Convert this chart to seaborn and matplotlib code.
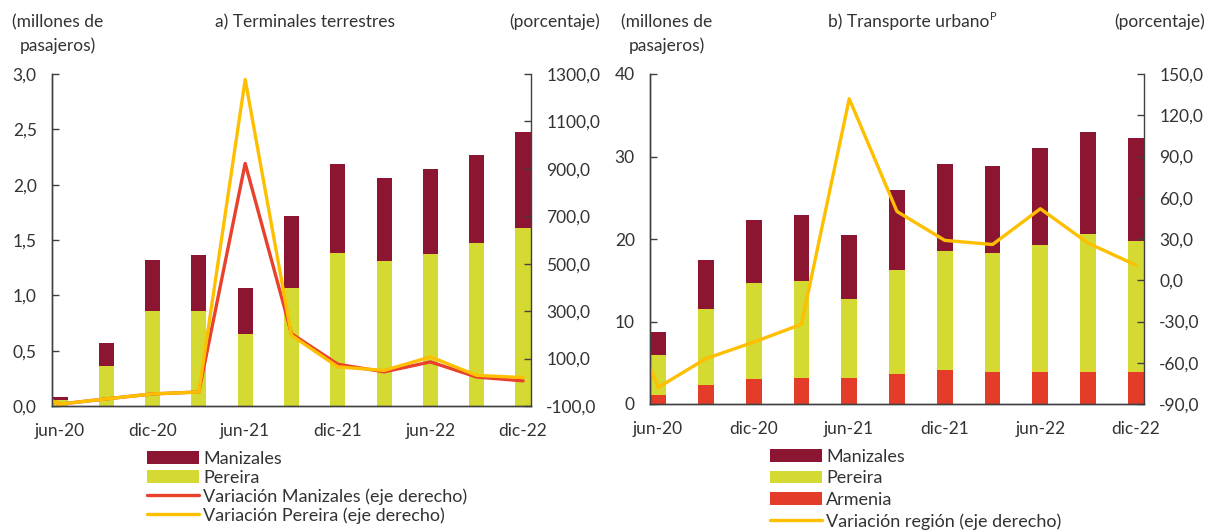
import numpy as np
import pandas as pd
import matplotlib
matplotlib.use("Agg")
import matplotlib.pyplot as plt
import seaborn as sns
from matplotlib.patches import Patch
from matplotlib.lines import Line2D

# ---------------- data ----------------
quarters = ["jun-20", "sep-20", "dic-20", "mar-21", "jun-21", "sep-21",
            "dic-21", "mar-22", "jun-22", "sep-22", "dic-22"]
var_quarters = ["mar-20"] + quarters
tick_labels = ["jun-20", "dic-20", "jun-21", "dic-21", "jun-22", "dic-22"]

# a) Terminales terrestres (millones de pasajeros)
term_pereira = [0.05, 0.36, 0.86, 0.86, 0.65, 1.07, 1.38, 1.31, 1.37, 1.47, 1.61]
term_manizales = [0.03, 0.21, 0.46, 0.50, 0.42, 0.65, 0.81, 0.75, 0.77, 0.80, 0.87]
# variaciones (porcentaje, eje derecho)
var_manizales = [-9, -92, -70, -49, -41, 923, 205, 76, 44, 86, 22, 6]
var_pereira = [-9, -92, -70, -49, -41, 1277, 198, 65, 50, 107, 29, 20]

# b) Transporte urbano (millones de pasajeros)
urb_armenia = [1.1, 2.3, 3.0, 3.15, 3.15, 3.6, 4.1, 3.9, 3.9, 3.9, 3.9]
urb_pereira = [4.9, 9.2, 11.7, 11.8, 9.6, 12.7, 14.4, 14.45, 15.35, 16.75, 15.8]
urb_manizales = [2.7, 5.9, 7.6, 8.0, 7.75, 9.6, 10.6, 10.55, 11.8, 12.3, 12.6]
var_region = [8, -78, -57, -45, -32, 132, 50, 29, 26, 52, 27, 11]

# ---------------- style ----------------
C_MAN = "#8C1631"
C_PER = "#D5DA33"
C_ARM = "#E43C28"
C_RED = "#E8412C"
C_ORA = "#FDBF00"
TXT = "#333333"
SPN = "#404040"

sns.set_theme(style="white")
plt.rcParams["font.family"] = ["Lato", "DejaVu Sans"]
plt.rcParams["font.size"] = 12
plt.rcParams["text.color"] = TXT
plt.rcParams["axes.labelcolor"] = TXT
plt.rcParams["xtick.color"] = TXT
plt.rcParams["ytick.color"] = TXT

fig = plt.figure(figsize=(12.12, 5.31), dpi=100)

def fmt1(v):
    return f"{v:.1f}".replace(".", ",")

def setup_axes(ax, ax2, n):
    off = 0.17
    ax.set_xlim(-off, n - 1 + off)
    ax.set_xticks(range(0, n, 2))
    ax.set_xticklabels(tick_labels)
    ax.set_xticks([i - off for i in range(0, n, 2)], minor=True)
    ax.tick_params(axis="x", which="major", length=0, pad=12, labelsize=12.5)
    ax.tick_params(axis="x", which="minor", direction="in", length=5, width=1, color=SPN)
    ax.tick_params(axis="y", direction="in", length=5, width=1, color=SPN, pad=11, labelsize=12.5)
    ax2.tick_params(axis="y", direction="in", length=5, width=1, color=SPN, pad=11, labelsize=12.5)
    ax.set_xlabel("")
    ax.set_ylabel("")
    ax2.set_xlabel("")
    ax2.set_ylabel("")
    for a in (ax, ax2):
        a.spines["top"].set_visible(False)
        for s in ("left", "right", "bottom"):
            a.spines[s].set_color(SPN)
            a.spines[s].set_linewidth(1.0)
        a.grid(False)
        a.set_facecolor("none")
    ax.spines["right"].set_visible(False)

# ---------------- panel a ----------------
axa = fig.add_axes([52 / 1212, 1 - 406 / 531, 479 / 1212, 332 / 531])
tp = np.array(term_pereira)
tm = np.array(term_manizales)
dfa = pd.DataFrame({"q": quarters, "total": tp + tm, "per": tp})
sns.barplot(data=dfa, x="q", y="total", order=quarters, color=C_MAN,
            width=0.33, saturation=1, ax=axa, edgecolor="none")
sns.barplot(data=dfa, x="q", y="per", order=quarters, color=C_PER,
            width=0.33, saturation=1, ax=axa, edgecolor="none")
axa.set_ylim(0, 3.0)
axa.set_yticks(np.arange(0, 3.01, 0.5))
axa.set_yticklabels([fmt1(v) for v in np.arange(0, 3.01, 0.5)])

axa2 = axa.twinx()
xs = np.arange(-1, len(quarters))
dfl = pd.DataFrame({"x": xs, "man": var_manizales, "per": var_pereira})
sns.lineplot(data=dfl, x="x", y="man", color=C_RED, linewidth=2.4, ax=axa2)
sns.lineplot(data=dfl, x="x", y="per", color=C_ORA, linewidth=2.4, ax=axa2)
axa2.set_ylim(-100, 1300)
rt = np.arange(-100, 1301, 200)
axa2.set_yticks(rt)
axa2.set_yticklabels([fmt1(v) for v in rt])
setup_axes(axa, axa2, len(quarters))

# ---------------- panel b ----------------
axb = fig.add_axes([650 / 1212, 1 - 404 / 531, 494 / 1212, 330 / 531])
ua = np.array(urb_armenia)
up = np.array(urb_pereira)
um = np.array(urb_manizales)
dfb = pd.DataFrame({"q": quarters, "total": ua + up + um, "per": ua + up, "arm": ua})
sns.barplot(data=dfb, x="q", y="total", order=quarters, color=C_MAN,
            width=0.33, saturation=1, ax=axb, edgecolor="none")
sns.barplot(data=dfb, x="q", y="per", order=quarters, color=C_PER,
            width=0.33, saturation=1, ax=axb, edgecolor="none")
sns.barplot(data=dfb, x="q", y="arm", order=quarters, color=C_ARM,
            width=0.33, saturation=1, ax=axb, edgecolor="none")
axb.set_ylim(0, 40)
axb.set_yticks(np.arange(0, 41, 10))
axb.set_yticklabels([str(v) for v in range(0, 41, 10)])

axb2 = axb.twinx()
dfr = pd.DataFrame({"x": xs, "reg": var_region})
sns.lineplot(data=dfr, x="x", y="reg", color=C_ORA, linewidth=2.4, ax=axb2)
axb2.set_ylim(-90, 150)
rt2 = np.arange(-90, 151, 30)
axb2.set_yticks(rt2)
axb2.set_yticklabels([fmt1(v) for v in rt2])
setup_axes(axb, axb2, len(quarters))

# ---------------- headers ----------------
fs = 12.5
fig.text(58 / 1212, 1 - 22 / 531, "(millones de", ha="center", va="center", fontsize=fs)
fig.text(58 / 1212, 1 - 46 / 531, "pasajeros)", ha="center", va="center", fontsize=fs)
fig.text(305 / 1212, 1 - 22 / 531, "a) Terminales terrestres", ha="center", va="center", fontsize=fs)
fig.text(555 / 1212, 1 - 22 / 531, "(porcentaje)", ha="center", va="center", fontsize=fs)

fig.text(667 / 1212, 1 - 22 / 531, "(millones de", ha="center", va="center", fontsize=fs)
fig.text(667 / 1212, 1 - 46 / 531, "pasajeros)", ha="center", va="center", fontsize=fs)
tb = fig.text(828 / 1212, 1 - 22 / 531, "b) Transporte urbano", ha="left", va="center", fontsize=fs)
renderer = fig.canvas.get_renderer()
bb = tb.get_window_extent(renderer=renderer)
fig.text((bb.x1 + 1) / 1212, 1 - 17 / 531, "P", ha="left", va="center", fontsize=8)
fig.text(1160 / 1212, 1 - 22 / 531, "(porcentaje)", ha="center", va="center", fontsize=fs)

# ---------------- legends ----------------
def patch(c):
    return Patch(facecolor=c, edgecolor="none")

def line(c):
    return Line2D([0], [0], color=c, linewidth=2.4)

leg_kw = dict(frameon=False, handlelength=2.9, handleheight=0.7,
              handletextpad=0.2, borderpad=0, borderaxespad=0,
              loc="upper left")
fig.legend([patch(C_MAN), patch(C_PER), line(C_RED), line(C_ORA)],
           ["Manizales", "Pereira", "Variación Manizales (eje derecho)",
            "Variación Pereira (eje derecho)"],
           bbox_to_anchor=(147 / 1212, 1 - 451 / 531), fontsize=13,
           labelspacing=0.14, **leg_kw)
fig.legend([patch(C_MAN), patch(C_PER), patch(C_ARM), line(C_ORA)],
           ["Manizales", "Pereira", "Armenia", "Variación región (eje derecho)"],
           bbox_to_anchor=(770 / 1212, 1 - 449 / 531), fontsize=13,
           labelspacing=0.3, **leg_kw)

fig.savefig("out.png", dpi=100)
